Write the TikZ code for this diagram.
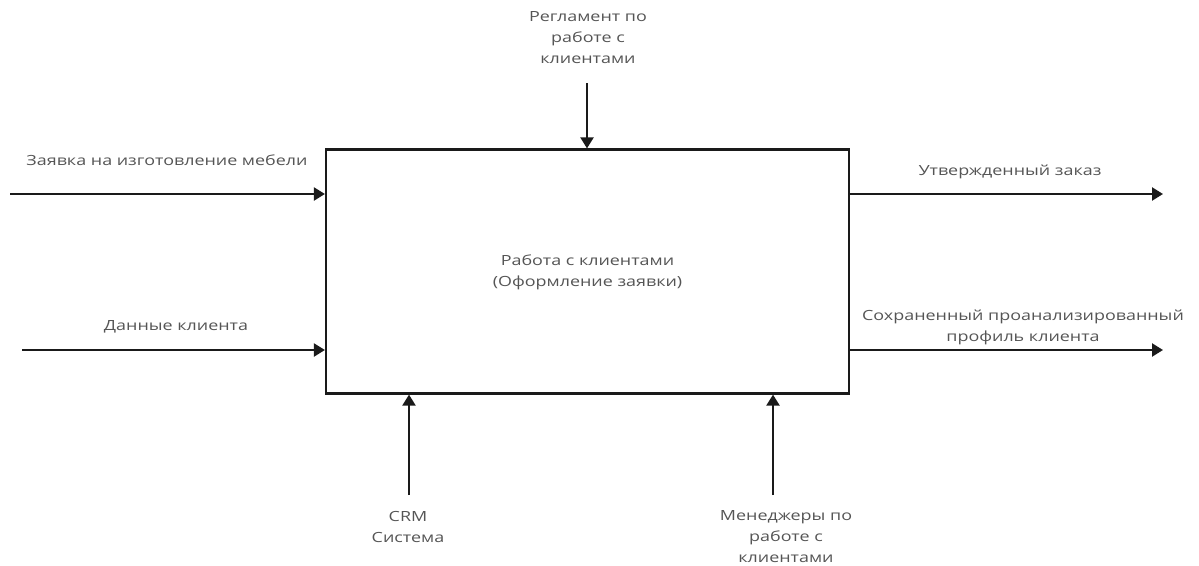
\documentclass[tikz,border=0pt]{standalone}
\usepackage{fontspec}
\setmainfont{Open Sans}[FakeStretch=1.28]
\usetikzlibrary{arrows.meta}
\definecolor{txt}{HTML}{555555}
\definecolor{ln}{HTML}{1A1A1A}
\begin{document}
\begin{tikzpicture}[x=1pt,y=-1pt,
  lbl/.style={text=txt,font=\fontsize{14}{21}\selectfont,align=center,inner sep=0pt},
  arr/.style={draw=ln,line width=2.2pt,-{Triangle[length=11pt,width=13pt]}},
  box/.style={draw=ln,line width=2.2pt,fill=white,minimum width=523pt,minimum height=244pt,inner sep=0pt}]
\useasboundingbox (0,0) rectangle (1199,565);
\node[box] (A) at (587.5,271.5) {};
\node[lbl] at (587.5,272) {Работа с клиентами\\(Оформление заявки)};
% inputs
\coordinate (i1) at (10,194);
\coordinate (i2) at (22,350);
\draw[arr] (i1) -- (A.west |- i1);
\draw[arr] (i2) -- (A.west |- i2);
\node[lbl] at (167,160) {Заявка на изготовление мебели};
\node[lbl] at (176,327) {Данные клиента};
% outputs
\coordinate (o1) at (1163,194);
\coordinate (o2) at (1163,350);
\draw[arr] (A.east |- o1) -- (o1);
\draw[arr] (A.east |- o2) -- (o2);
\node[lbl] at (1010,172) {Утвержденный заказ};
\node[lbl] at (1023,327) {Сохраненный проанализированный\\профиль клиента};
% control
\coordinate (c1) at (587,83);
\draw[arr] (c1) -- (A.north -| c1);
\node[lbl] at (588,38) {Регламент по\\работе с\\клиентами};
% mechanisms
\coordinate (m1) at (409,495);
\coordinate (m2) at (773,495);
\draw[arr] (m1) -- (A.south -| m1);
\draw[arr] (m2) -- (A.south -| m2);
\node[lbl] at (408,527) {CRM\\Система};
\node[lbl] at (786,537) {Менеджеры по\\работе с\\клиентами};
\end{tikzpicture}
\end{document}
